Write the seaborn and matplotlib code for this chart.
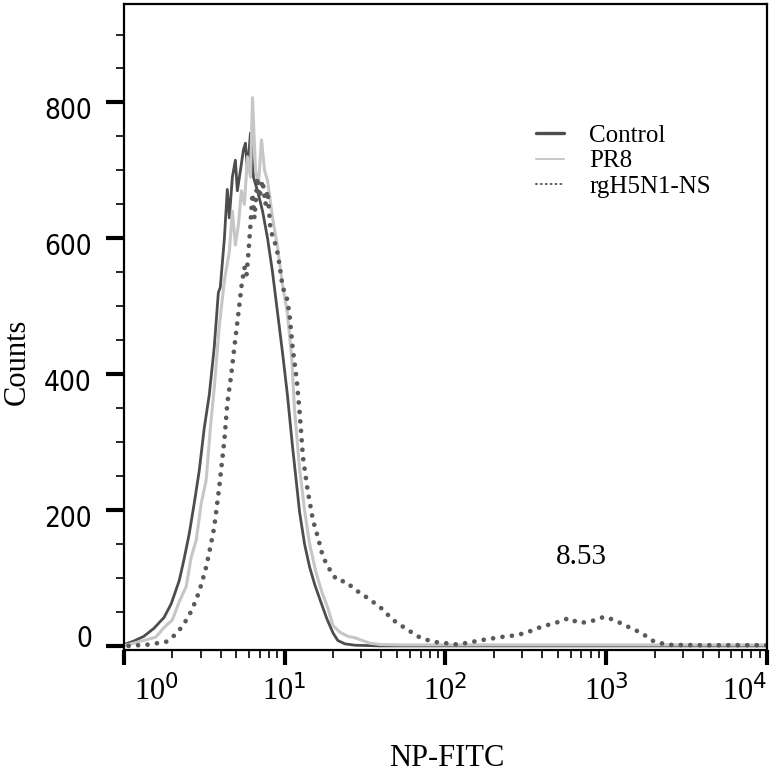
import matplotlib
matplotlib.use('Agg')
import matplotlib.pyplot as plt
import matplotlib.transforms as mtransforms
import seaborn as sns
from matplotlib.lines import Line2D
from matplotlib.ticker import FixedLocator, NullFormatter

# Histogram outlines (fluorescence, counts)
control_x = [1.03, 1.15, 1.33, 1.54, 1.78, 1.97, 2.21, 2.37, 2.55, 2.74, 2.94, 3.16,
             3.40, 3.65, 3.87, 3.98, 4.22, 4.40, 4.53, 4.73, 4.94, 5.08, 5.31, 5.54,
             5.70, 5.87, 6.13, 6.40, 6.78, 7.29, 7.83, 8.41, 9.04, 9.72, 10.4, 11.2,
             12.4, 13.3, 14.3, 15.4, 16.6, 18.3, 20.0, 21.4, 23.7, 27.4, 39.3, 10000]
control_y = [3, 7, 14, 26, 42, 62, 96, 128, 165, 210, 257, 320,
             370, 440, 520, 528, 600, 672, 630, 690, 715, 670, 700, 730,
             740, 700, 755, 690, 670, 640, 600, 550, 490, 430, 370, 293,
             196, 150, 116, 90, 68, 40, 19, 8, 3, 1, 0, 0]

pr8_x = [1.03, 1.24, 1.43, 1.58, 1.78, 2.00, 2.21, 2.44, 2.62, 2.82, 3.03, 3.25,
         3.45, 3.65, 3.92, 4.22, 4.53, 4.73, 4.94, 5.16, 5.38, 5.62, 5.87, 6.13,
         6.31, 6.59, 6.88, 7.18, 7.50, 7.83, 8.41, 9.04, 9.72, 10.4, 11.1, 11.5,
         12.4, 13.3, 14.3, 15.6, 17.0, 18.6, 20.0, 22.1, 24.8, 27.4, 30.3, 34.0,
         39.3, 52.3, 10000]
pr8_y = [1, 6, 10, 13, 27, 38, 65, 87, 130, 156, 210, 244,
         320, 380, 470, 538, 580, 640, 590, 620, 670, 650, 720, 690,
         807, 700, 680, 745, 700, 685, 630, 587, 530, 490, 420, 350,
         260, 200, 150, 110, 80, 55, 30, 20, 14, 12, 8, 4,
         2, 1.5, 1.5]

ns_x = [1.07, 1.43, 1.83, 2.05, 2.30, 2.55, 2.82, 3.03, 3.25, 3.45, 3.65, 3.92,
        4.22, 4.40, 4.66, 4.87, 5.16, 5.38, 5.62, 5.79, 5.96, 6.13, 6.31, 6.49,
        6.78, 6.98, 7.29, 7.60, 7.83, 8.18, 8.54, 9.04, 9.30, 9.72, 10.3, 10.7,
        11.2, 11.9, 12.4, 13.0, 13.9, 15.0, 16.1, 17.3, 19.1, 21.1, 24.4, 26.6,
        32.6, 39.3, 47.3, 57.9, 69.8, 84.1, 119, 173, 221, 282, 340, 393,
        501, 587, 668, 772, 903, 972, 1122, 1373, 1655, 1995, 2441, 3926, 10000]
ns_y = [0, 2, 6, 15, 28, 45, 68, 90, 116, 145, 175, 234,
        303, 357, 400, 440, 490, 528, 557, 545, 580, 620, 666, 630,
        690, 660, 685, 650, 670, 610, 601, 578, 560, 528, 513, 490,
        440, 391, 343, 278, 229, 185, 160, 131, 112, 97, 94, 85,
        71, 57, 38, 24, 12, 6, 2, 9, 13, 16, 22, 28,
        35, 41, 34, 35, 40, 43, 38, 28, 19, 6, 1.5, 1, 1]

series_names = ['Control', 'PR8', 'rgH5N1-NS']
y_ticks = [0, 200, 400, 600, 800]
y_minor = [50, 100, 150, 250, 300, 350, 450, 500, 550, 650, 700, 750, 850, 900]
x_decades = [0, 1, 2, 3, 4]
gate_label = '8.53'

sns.set_style('ticks')
plt.rcParams['mathtext.fontset'] = 'custom'
plt.rcParams['mathtext.rm'] = 'Liberation Serif'
plt.rcParams['mathtext.sf'] = 'DejaVu Sans'

fig = plt.figure(figsize=(7.74, 7.76), dpi=100)
ax = fig.add_axes([0.160, 0.1624, 0.831, 0.8325])
ax.set_xscale('log')

sns.lineplot(x=control_x, y=control_y, ax=ax, color='#4d4d4d', lw=2.0,
             sort=False, estimator=None)
sns.lineplot(x=pr8_x, y=pr8_y, ax=ax, color='#c6c6c6', lw=2.2,
             sort=False, estimator=None)
line_ns = sns.lineplot(x=ns_x, y=ns_y, ax=ax, color='#5a5a5a', lw=3.4,
                       sort=False, estimator=None).lines[-1]
line_ns.set_linestyle((0, (0.01, 2.0)))
line_ns.set_dash_capstyle('round')

ax.set_xlim(1, 10000)
ax.set_ylim(-6, 945)

for s in ax.spines.values():
    s.set_linewidth(1.6)
    s.set_color('black')

# y axis ticks
ax.yaxis.set_major_locator(FixedLocator(y_ticks))
ax.yaxis.set_minor_locator(FixedLocator(y_minor))
ax.tick_params(axis='y', which='major', direction='out', length=13, width=3,
               pad=10, labelsize=20, color='black', labelcolor='black')
ax.tick_params(axis='y', which='minor', direction='out', length=6, width=1.2,
               color='black')
for val, lab in zip(y_ticks, ax.get_yticklabels()):
    lab.set_family('DejaVu Sans')
    lab.set_fontstretch('condensed')
    dy = 10 if val == 0 else -6
    lab.set_transform(lab.get_transform() + mtransforms.ScaledTranslation(
        0, dy / 100, fig.dpi_scale_trans))

# x axis ticks
ax.xaxis.set_major_locator(FixedLocator([10 ** d for d in x_decades]))
minors = [m * 10 ** d for d in x_decades[:-1] for m in range(2, 10)]
ax.xaxis.set_minor_locator(FixedLocator(minors))
ax.xaxis.set_minor_formatter(NullFormatter())
ax.set_xticklabels([r'$\mathrm{10}^{\mathsf{%d}}$' % d for d in x_decades])
ax.tick_params(axis='x', which='major', direction='out', length=11, width=3,
               pad=6, labelsize=22, color='black', labelcolor='black')
ax.tick_params(axis='x', which='minor', direction='out', length=6, width=1.2,
               color='black')
xl = ax.get_xticklabels()
xl[0].set_horizontalalignment('left')
xl[0].set_transform(xl[0].get_transform() + mtransforms.ScaledTranslation(
    0.1, 0, fig.dpi_scale_trans))
xl[-1].set_horizontalalignment('right')

fig.text(17 / 774, 1 - 362 / 776, 'Counts', rotation=90, ha='center',
         va='center', fontsize=22, family='Liberation Serif', color='black')
fig.text(447 / 774, 1 - 758 / 776, 'NP-FITC', ha='center', va='center',
         fontsize=22, family='Liberation Serif', color='black')

ax.text(698, 131, gate_label, ha='center', va='center', fontsize=21,
        family='Liberation Serif', color='black')

handles = [
    Line2D([], [], color='#4d4d4d', lw=2.4),
    Line2D([], [], color='#c6c6c6', lw=1.4),
    Line2D([], [], color='#5a5a5a', lw=1.4, linestyle=(0, (0.5, 2.0)),
           dash_capstyle='round'),
]
leg = ax.legend(handles, series_names, loc='upper left',
                bbox_to_anchor=((524 - 124) / 643, (650 - 112) / 646),
                frameon=False, handlelength=1.1, handletextpad=1.0,
                labelspacing=0.12, borderpad=0,
                prop={'family': 'Liberation Serif', 'size': 18})
for t in leg.get_texts():
    t.set_color('black')

plt.savefig('out.png', dpi=100)
plt.close()
